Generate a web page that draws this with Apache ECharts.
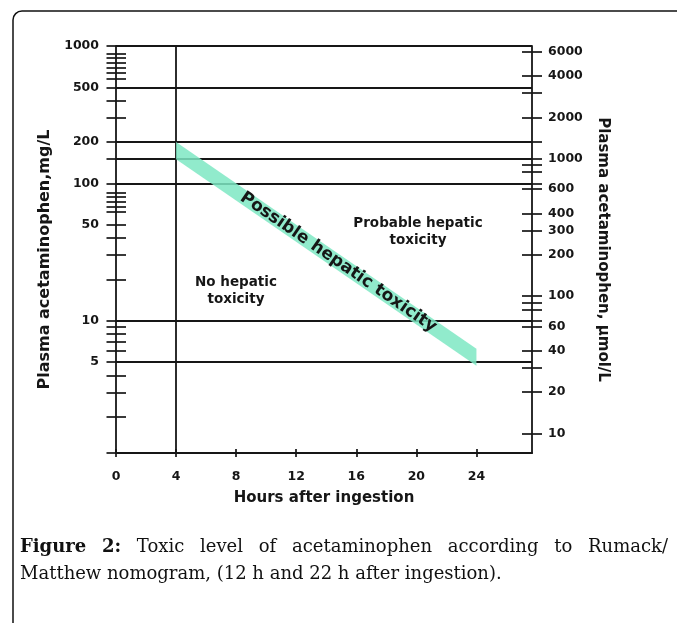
<!DOCTYPE html>
<html><head><meta charset="utf-8">
<script src="https://cdn.jsdelivr.net/npm/echarts@6/dist/echarts.min.js"></script>
<style>html,body{margin:0;padding:0;background:#fff}#c{width:677px;height:623px}</style>
</head><body><div id="c"></div>
<script>
// ---- data ----
const hourTicks = [0, 4, 8, 12, 16, 20, 24];
const mgLabels = [1000, 500, 200, 100, 50, 10, 5];
const mgMinorTicks = [875, 815, 750, 690, 635, 580, 400, 300, 150, 86, 80, 74, 68, 62, 40, 30, 20, 9, 8, 7, 6, 4, 3, 2];
const umolLabels = [6000, 4000, 2000, 1000, 600, 400, 300, 200, 100, 60, 40, 20, 10];
const umolMinorTicks = [3000, 1324, 900, 800, 662, 90, 80, 66, 30];
const mgGridLines = [1000, 500, 200, 150, 100, 10, 5];
const timeLines = [4];
const bandHours = [4, 24];
const bandUpper = [200, 6.25];
const bandLower = [150, 4.7];
const mgMin = 1.09, mgMax = 1000, hourMax = 27.7;
const mgToUmol = 6.62;

// ---- chart ----
const TXT = '#161616';
const FONT = 'DejaVu Sans';
const chart = echarts.init(document.getElementById('c'));
const fmt = v => String(Math.round(v));
const tickStyle = {color: TXT, width: 1.7};

function logAxis(extra) {
  return Object.assign({
    type: 'log', logBase: 10, min: mgMin, max: mgMax,
    splitLine: {show: false}, minorTick: {show: false}, minorSplitLine: {show: false}
  }, extra);
}
const leftTicks = mgLabels.concat(mgMinorTicks, [mgMin]);
const rightTicks = umolLabels.concat(umolMinorTicks);

const ctx = document.createElement('canvas').getContext('2d');
function tw(text, font) { ctx.font = font; return ctx.measureText(text).width; }
const capFont = '18px "DejaVu Serif"';
const capBold = 'bold 18px "DejaVu Serif"';
const line1 = [['Figure', true], ['2:', true], ['Toxic', false], ['level', false], ['of', false],
  ['acetaminophen', false], ['according', false], ['to', false], ['Rumack/', false]];
const capLeft = 20, capRight = 668;
let totalW = 0;
line1.forEach(w => { totalW += tw(w[0], w[1] ? capBold : capFont); });
const gap = (capRight - capLeft - totalW) / (line1.length - 1);
const capElems = [];
let cx = capLeft;
line1.forEach(w => {
  const f = w[1] ? capBold : capFont;
  capElems.push({type: 'text', x: cx, y: 547, style: {text: w[0], font: f, fill: '#111', align: 'left', verticalAlign: 'middle'}});
  cx += tw(w[0], f) + gap;
});
capElems.push({type: 'text', x: capLeft, y: 574, style: {text: 'Matthew nomogram, (12 h and 22 h after ingestion).', font: capFont, fill: '#111', align: 'left', verticalAlign: 'middle'}});

const option = {
  animation: false,
  backgroundColor: '#fff',
  grid: {left: 116, right: 145, top: 46, bottom: 170, containLabel: false},
  xAxis: [
    {type: 'value', min: 0, max: hourMax, position: 'bottom',
     name: 'Hours after ingestion', nameLocation: 'middle', nameGap: 38,
     nameTextStyle: {fontFamily: FONT, fontWeight: 'bold', fontSize: 15, color: TXT},
     axisLine: {show: true, lineStyle: {color: TXT, width: 1.8}},
     axisTick: {show: true, inside: false, length: 4, lineStyle: tickStyle, customValues: hourTicks},
     axisLabel: {show: true, customValues: hourTicks, margin: 17, fontFamily: FONT, fontWeight: 'bold', fontSize: 12.5, color: TXT},
     splitLine: {show: false}},
    {type: 'value', min: 0, max: hourMax, position: 'bottom',
     axisLine: {show: false},
     axisTick: {show: true, inside: true, length: 4, lineStyle: tickStyle, customValues: hourTicks},
     axisLabel: {show: false}, splitLine: {show: false}}
  ],
  yAxis: [
    logAxis({position: 'left',
      name: 'Plasma acetaminophen,mg/L', nameLocation: 'middle', nameGap: 63,
      nameTextStyle: {fontFamily: FONT, fontWeight: 'bold', fontSize: 16, color: TXT, padding: [0, 20, 0, 0]},
      axisLine: {show: true, lineStyle: {color: TXT, width: 1.8}},
      axisTick: {show: true, inside: false, length: 9.5, lineStyle: tickStyle, customValues: leftTicks},
      axisLabel: {show: true, customValues: mgLabels, formatter: fmt, margin: 17, fontFamily: FONT, fontWeight: 'bold', fontSize: 12.5, color: TXT}}),
    logAxis({position: 'left',
      axisLine: {show: false},
      axisTick: {show: true, inside: true, length: 10, lineStyle: tickStyle, customValues: leftTicks},
      axisLabel: {show: false}}),
    logAxis({position: 'right', min: mgMin * mgToUmol, max: mgMax * mgToUmol,
      name: 'Plasma acetaminophen, µmol/L', nameLocation: 'middle', nameGap: 63, nameRotate: -90,
      nameTextStyle: {fontFamily: FONT, fontWeight: 'bold', fontSize: 15, color: TXT},
      axisLine: {show: true, lineStyle: {color: TXT, width: 1.8}},
      axisTick: {show: true, inside: false, length: 10, lineStyle: tickStyle, customValues: rightTicks},
      axisLabel: {show: true, customValues: umolLabels, formatter: fmt, margin: 16, fontFamily: FONT, fontWeight: 'bold', fontSize: 12.5, color: TXT}}),
    logAxis({position: 'right', min: mgMin * mgToUmol, max: mgMax * mgToUmol,
      axisLine: {show: false},
      axisTick: {show: true, inside: true, length: 10, lineStyle: tickStyle, customValues: rightTicks},
      axisLabel: {show: false}})
  ],
  series: [
    {type: 'line', xAxisIndex: 0, yAxisIndex: 0, data: [], silent: true,
     markLine: {silent: true, symbol: ['none', 'none'], label: {show: false},
       lineStyle: {color: TXT, width: 1.8, type: 'solid'},
       data: mgGridLines.map(v => ({yAxis: v})).concat(timeLines.map(v => ({xAxis: v})))}},
    {type: 'custom', xAxisIndex: 0, yAxisIndex: 0, data: [[0]], silent: true, z: 5,
     renderItem: function (params, api) {
       const up = bandHours.map((h, i) => api.coord([h, bandUpper[i]]));
       const lo = bandHours.map((h, i) => api.coord([h, bandLower[i]])).reverse();
       const c0 = api.coord([bandHours[0], Math.sqrt(bandUpper[0] * bandLower[0])]);
       const c1 = api.coord([bandHours[1], Math.sqrt(bandUpper[1] * bandLower[1])]);
       const ang = Math.atan2(c1[1] - c0[1], c1[0] - c0[0]);
       const t = 0.54;
       return {type: 'group', children: [
         {type: 'polygon', shape: {points: up.concat(lo)}, style: {fill: '#7ee8c3', opacity: 0.85}},
         {type: 'text', x: c0[0] + t * (c1[0] - c0[0]), y: c0[1] + t * (c1[1] - c0[1]), rotation: -ang,
          style: {text: 'Possible hepatic toxicity', fontFamily: FONT, fontWeight: 'bold', fontSize: 17, fill: TXT, align: 'center', verticalAlign: 'middle'}}
       ]};
     }}
  ],
  graphic: [
    {type: 'rect', shape: {x: 13, y: 11, width: 700, height: 700, r: [9, 0, 0, 0]}, style: {fill: 'none', stroke: '#111', lineWidth: 1.5}, silent: true},
    {type: 'text', x: 418, y: 232, style: {text: 'Probable hepatic\ntoxicity', fontFamily: FONT, fontWeight: 'bold', fontSize: 13.5, lineHeight: 17, fill: TXT, align: 'center', verticalAlign: 'middle'}},
    {type: 'text', x: 236, y: 291, style: {text: 'No hepatic\ntoxicity', fontFamily: FONT, fontWeight: 'bold', fontSize: 13.5, lineHeight: 17, fill: TXT, align: 'center', verticalAlign: 'middle'}}
  ].concat(capElems)
};
chart.setOption(option);
</script>
</body></html>
